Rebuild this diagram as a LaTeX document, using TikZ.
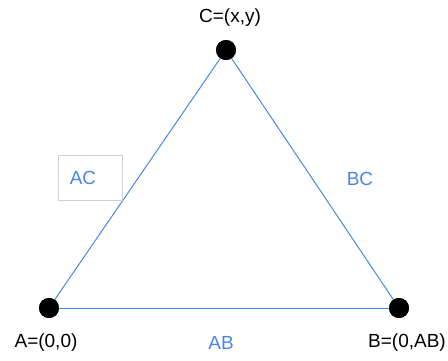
\documentclass[tikz,border=0pt]{standalone}
\usepackage{fontspec}
\setmainfont{Liberation Sans}
\definecolor{lineblue}{RGB}{74,134,232}
\definecolor{boxgray}{RGB}{208,208,208}
\begin{document}
\begin{tikzpicture}[x=1pt,y=-1pt,
  dot/.style={circle,fill=black,inner sep=0pt,minimum size=20pt},
  edge/.style={draw=lineblue,line width=1pt},
  lbl/.style={font=\fontsize{19}{22}\selectfont,inner sep=0pt},
  blbl/.style={lbl,text=lineblue}]
\useasboundingbox (0,0) rectangle (448,360);
\node[dot] (A) at (49,308) {};
\node[dot] (B) at (399,308) {};
\node[dot] (C) at (226,50) {};
\draw[edge] (A.center) -- (B.center);
\draw[edge] (A.center) -- (C.center);
\draw[edge] (B.center) -- (C.center);
\node[dot] at (A) {};
\node[dot] at (B) {};
\node[dot] at (C) {};
\node[lbl] (la) at (46,343) {A=(0,0)};
\node[lbl] (lb) at (407,343) {B=(0,AB)};
\node[lbl] (lc) at (230,18) {C=(x,y)};
\node[blbl] (lab) at (221,343) {AB};
\node[blbl] (lbc) at (360,179) {BC};
\node[draw=boxgray,line width=0.8pt,minimum width=64pt,minimum height=45pt,inner sep=0pt] (acbox) at (90,177.5) {};
\node[blbl] (lac) at (83,178) {AC};
\end{tikzpicture}
\end{document}
